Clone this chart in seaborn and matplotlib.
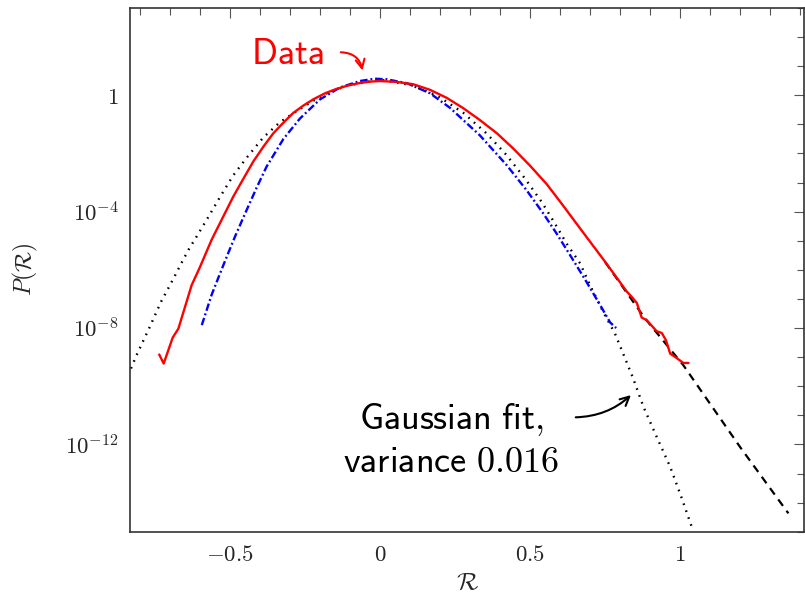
import numpy as np
import pandas as pd
import matplotlib
matplotlib.use("Agg")
import matplotlib.pyplot as plt
import matplotlib.ticker as mticker
import seaborn as sns

# ---- data (x = R, values = log10 P(R)) ----
data_R = [-0.736, -0.721, -0.691, -0.672, -0.628, -0.600, -0.561, -0.489, -0.455, -0.422,
          -0.389, -0.356, -0.322, -0.289, -0.255, -0.222, -0.183, -0.144, -0.105, -0.067,
          -0.033, 0.0, 0.055, 0.111, 0.166, 0.222, 0.277, 0.333, 0.39, 0.444, 0.5, 0.556,
          0.61, 0.667, 0.75, 0.822, 0.839, 0.856, 0.872, 0.889, 0.922, 0.939, 0.953,
          0.967, 0.983, 1.011, 1.028]
data_log10P = [-8.91, -9.22, -8.33, -8.02, -6.53, -5.90, -4.96, -3.48, -2.86, -2.27,
               -1.77, -1.31, -0.94, -0.605, -0.35, -0.136, 0.07, 0.223, 0.34, 0.423,
               0.47, 0.49, 0.46, 0.379, 0.19, -0.087, -0.44, -0.853, -1.31, -1.83, -2.42,
               -3.06, -3.79, -4.58, -5.72, -6.74, -6.93, -7.14, -7.64, -7.73, -8.11, -8.17,
               -8.42, -8.88, -8.99, -9.20, -9.20]

blue_R = [-0.594, -0.561, -0.533, -0.509, -0.483, -0.45, -0.411, -0.378, -0.322, -0.267,
          -0.2, -0.133, -0.067, -0.017, 0.022, 0.09, 0.167, 0.233, 0.333, 0.422, 0.489,
          0.544, 0.589, 0.65, 0.689, 0.733, 0.767, 0.787]
blue_log10P = [-7.9, -6.85, -6.12, -5.5, -4.85, -4.07, -3.17, -2.45, -1.50, -0.80,
               -0.14, 0.27, 0.49, 0.57, 0.55, 0.414, 0.067, -0.43, -1.38, -2.40, -3.27,
               -4.06, -4.76, -5.77, -6.43, -7.2, -7.81, -8.0]

gauss_R = [-0.83, -0.813, -0.791, -0.77, -0.75, -0.729, -0.706, -0.683, -0.66, -0.636,
           -0.611, -0.572, -0.533, -0.489, -0.444, -0.389, -0.333, -0.267, -0.189, -0.111,
           -0.022, 0.011, 0.106, 0.194, 0.278, 0.356, 0.422, 0.483, 0.539, 0.583, 0.622,
           0.667, 0.7, 0.744, 0.783, 0.817, 0.844, 0.878, 0.922, 0.967, 1.006, 1.039]
gauss_log10P = [-9.39, -8.97, -8.48, -8.02, -7.56, -7.08, -6.64, -6.19, -5.73, -5.27,
                -4.85, -4.18, -3.49, -2.75, -2.14, -1.45, -0.92, -0.47, 0.02, 0.33,
                0.50, 0.52, 0.344, -0.034, -0.608, -1.32, -2.06, -2.86, -3.67, -4.41,
                -5.10, -5.78, -6.53, -7.45, -8.19, -9.05, -9.74, -10.71, -11.74, -12.77,
                -13.86, -14.84]

tail_R = [0.75, 0.883, 1.011, 1.2, 1.361]
tail_log10P = [-5.73, -7.67, -9.28, -12.09, -14.37]

xticks = [-0.5, 0, 0.5, 1]
xticklabels = [r"$-0.5$", r"$0$", r"$0.5$", r"$1$"]
yticks = [1e-12, 1e-8, 1e-4, 1]
yticklabels = [r"$10^{-12}$", r"$10^{-8}$", r"$10^{-4}$", r"$1$"]

# ---- style ----
sns.set_style("white")
plt.rcParams["mathtext.fontset"] = "cm"
plt.rcParams["font.family"] = ["DejaVu Sans"]

fig = plt.figure(figsize=(8.05, 6.0), dpi=100)
ax = fig.add_axes([130 / 805, 1 - 531.7 / 600, (804 - 130) / 805, (531.7 - 8) / 600])

def frame(x, ly):
    return pd.DataFrame({"R": x, "P": np.power(10.0, ly)})

sns.lineplot(data=frame(gauss_R, gauss_log10P), x="R", y="P", ax=ax, color="black",
             lw=1.7, linestyle=(0, (0.7, 2.4)), estimator=None, sort=False)
sns.lineplot(data=frame(tail_R, tail_log10P), x="R", y="P", ax=ax, color="black",
             lw=1.6, linestyle=(0, (3.6, 2.7)), estimator=None, sort=False)
sns.lineplot(data=frame(blue_R, blue_log10P), x="R", y="P", ax=ax, color="#0000ff",
             lw=1.7, linestyle=(0, (3.2, 1.2, 0.8, 1.2)), estimator=None, sort=False)
sns.lineplot(data=frame(data_R, data_log10P), x="R", y="P", ax=ax, color="#ff0000",
             lw=1.7, estimator=None, sort=False)

ax.set_yscale("log")
ax.set_xlim(-0.8333, 1.413)
ax.set_ylim(1e-15, 1e3)

ax.xaxis.set_major_locator(mticker.FixedLocator(xticks))
ax.xaxis.set_major_formatter(mticker.FixedFormatter(xticklabels))
ax.xaxis.set_minor_locator(mticker.MultipleLocator(0.1))
ax.yaxis.set_major_locator(mticker.FixedLocator(yticks))
ax.yaxis.set_major_formatter(mticker.FixedFormatter(yticklabels))
ax.yaxis.set_minor_locator(mticker.LogLocator(base=10, subs=(1.0,), numticks=40))
ax.yaxis.set_minor_formatter(mticker.NullFormatter())

ax.tick_params(which="both", direction="in", top=True, right=True, color="#555555",
               labelsize=16.5, pad=8)
ax.tick_params(which="major", length=7.5, width=0.8)
ax.tick_params(which="minor", length=4.8, width=0.8)
for s in ax.spines.values():
    s.set_color("#333333")
    s.set_linewidth(1.2)

ax.set_xlabel(r"$\mathcal{R}$", fontsize=18, labelpad=3)
ax.set_ylabel(r"$P(\mathcal{R})$", fontsize=17, labelpad=18)

# annotations
ax.text(-0.307, 10 ** 1.41, r"$\mathsf{Data}$", color="#ff0000", fontsize=26,
        ha="center", va="center")
ax.annotate("", xy=(-0.057, 10 ** 0.756), xytext=(-0.14, 10 ** 1.478),
            arrowprops=dict(arrowstyle="->", color="#ff0000", lw=1.5,
                            connectionstyle="arc3,rad=-0.45", mutation_scale=16))
ax.text(0.237, 10 ** -11.86, "$\\mathsf{Gaussian\\ fit,}$\n$\\mathsf{variance\\ 0.016}$",
        color="black", fontsize=26, ha="center", va="center", linespacing=1.25)
ax.annotate("", xy=(0.843, 10 ** -10.24), xytext=(0.643, 10 ** -11.07),
            arrowprops=dict(arrowstyle="->", color="black", lw=1.5,
                            connectionstyle="arc3,rad=0.2", mutation_scale=16))

fig.savefig("out.png", dpi=100)
